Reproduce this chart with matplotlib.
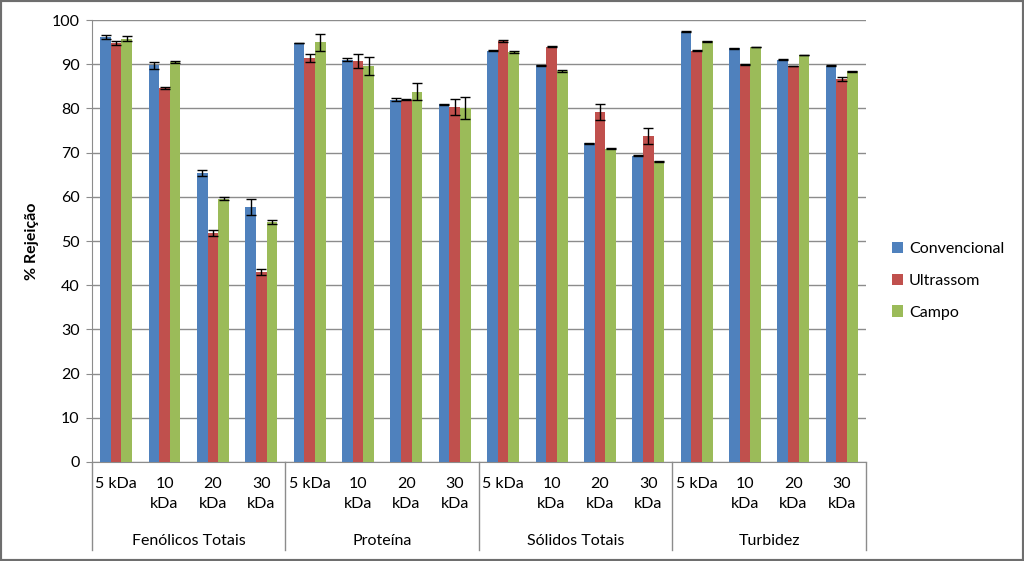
import numpy as np
import matplotlib.pyplot as plt
from matplotlib.patches import Rectangle

plt.rcParams['font.family'] = ['Lato', 'DejaVu Sans']

# ---- data ----
groups = ['Fenólicos Totais', 'Proteína', 'Sólidos Totais', 'Turbidez']
sizes = ['5 kDa', '10\nkDa', '20\nkDa', '30\nkDa']
series = ['Convencional', 'Ultrassom', 'Campo']
colors = ['#4F81BD', '#C0504D', '#9BBB59']

conv = [96.2, 89.8, 65.4, 57.7,
        94.8, 91.0, 82.0, 80.9,
        93.1, 89.8, 72.1, 69.3,
        97.4, 93.6, 91.0, 89.7]
ultra = [94.8, 84.6, 51.8, 43.0,
         91.4, 90.7, 82.0, 80.3,
         95.2, 94.0, 79.2, 73.7,
         93.1, 90.0, 89.6, 86.7]
campo = [95.8, 90.5, 59.6, 54.3,
         95.0, 89.6, 83.8, 80.1,
         92.8, 88.5, 70.9, 68.0,
         95.2, 93.9, 92.1, 88.4]

conv_err = [0.4, 0.8, 0.6, 1.8,
            0.1, 0.3, 0.3, 0.1,
            0.1, 0.1, 0.1, 0.1,
            0.1, 0.1, 0.1, 0.1]
ultra_err = [0.4, 0.3, 0.6, 0.6,
             1.0, 1.6, 0.1, 1.9,
             0.2, 0.1, 1.8, 1.8,
             0.1, 0.1, 0.1, 0.5]
campo_err = [0.6, 0.3, 0.3, 0.5,
             1.9, 2.0, 1.9, 2.4,
             0.3, 0.3, 0.1, 0.2,
             0.1, 0.1, 0.1, 0.1]

values = [conv, ultra, campo]
errors = [conv_err, ultra_err, campo_err]

# ---- figure ----
fig = plt.figure(figsize=(10.24, 5.61), dpi=100)
ax = fig.add_axes([0.0898, 0.1765, 0.7559, 0.7878])

n = len(groups) * len(sizes)
x = np.arange(n)
w = 0.22
for i, (vals, errs) in enumerate(zip(values, errors)):
    ax.bar(x + (i - 1) * w, vals, width=w, color=colors[i], label=series[i],
           yerr=errs, capsize=3.5, error_kw=dict(ecolor='black', elinewidth=1, capthick=1),
           zorder=3)

ax.set_xlim(-0.5, n - 0.5)
ax.set_ylim(0, 100)
ax.set_yticks(range(0, 101, 10))
ax.yaxis.grid(True, color='#8c8c8c', linewidth=1, zorder=0)
ax.set_axisbelow(True)
for s in ['top', 'right']:
    ax.spines[s].set_visible(False)
ax.spines['left'].set_color('#8c8c8c')
ax.spines['bottom'].set_color('#8c8c8c')
ax.tick_params(axis='y', length=4, color='#8c8c8c', labelsize=11.5, pad=5)
ax.set_xticks([])
ax.set_ylabel('% Rejeição', fontsize=11.5, fontweight='bold', labelpad=9)

# multi-level category labels
trans = ax.get_xaxis_transform()
for k in range(n):
    ax.text(x[k], -0.035, sizes[k % len(sizes)], transform=trans, ha='center', va='top',
            fontsize=11.5, linespacing=1.5)
for g, name in enumerate(groups):
    xc = g * len(sizes) + (len(sizes) - 1) / 2
    ax.text(xc, -0.163, name, transform=trans, ha='center', va='top', fontsize=11.5)
for b in range(len(groups) + 1):
    xb = b * len(sizes) - 0.5
    ax.plot([xb, xb], [0, -0.2], transform=trans, color='#8c8c8c', linewidth=1,
            clip_on=False)

ax.legend(loc='center left', bbox_to_anchor=(1.015, 0.41), frameon=False, fontsize=11.5,
          handlelength=0.7, handleheight=0.7, handletextpad=0.35, labelspacing=1.1)

fig.patches.append(Rectangle((0, 0), 1, 1, transform=fig.transFigure, fill=False,
                             edgecolor='#6e6e6e', linewidth=3))

fig.savefig('out.png', dpi=100)
